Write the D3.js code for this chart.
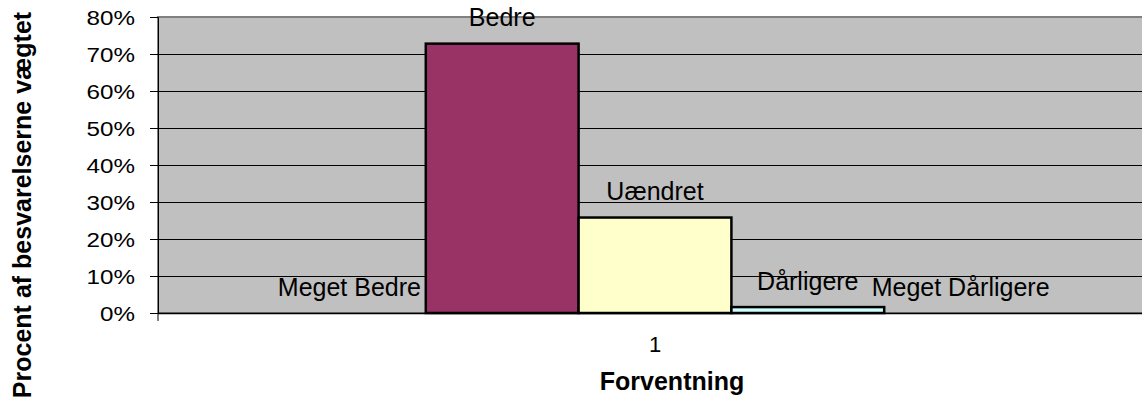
<!DOCTYPE html>
<html><head><meta charset="utf-8">
<script src="https://cdn.jsdelivr.net/npm/d3@7"></script>
<style>body{margin:0;background:#fff}svg{display:block}text{font-family:"Liberation Sans",Arial,sans-serif}</style>
</head><body><svg id="c" width="1142" height="412"></svg>
<script>
const categories = ["1"];
const seriesNames = ["Meget Bedre","Bedre","Uændret","Dårligere","Meget Dårligere"];
const seriesValues = [0, 0.728, 0.258, 0.016, 0];
const seriesColors = ["#9999ff","#993366","#ffffcc","#ccffff","#660066"];
const yTicks = [0,0.1,0.2,0.3,0.4,0.5,0.6,0.7,0.8];
const yTitle = "Procent af besvarelserne vægtet";
const xTitle = "Forventning";

const svg = d3.select("#c");
const L = 158, R = 1152, T = 17, B = 313;
const y = d3.scaleLinear().domain([0,0.8]).range([B,T]);
const x0 = d3.scaleBand().domain(categories).range([L,R]).paddingInner(0).paddingOuter(0.1505);
const x1 = d3.scaleBand().domain(seriesNames).range([0,x0.bandwidth()]).padding(0);

// plot area
svg.append("rect").attr("x",L).attr("y",T).attr("width",R-L+20).attr("height",B-T)
  .attr("fill","#c0c0c0").attr("stroke","#808080").attr("stroke-width",2);

// gridlines
svg.append("g").selectAll("line").data(yTicks.filter(d=>d>0 && d<0.8)).join("line")
  .attr("x1",L).attr("x2",1142).attr("y1",d=>Math.round(y(d))+0.5).attr("y2",d=>Math.round(y(d))+0.5)
  .attr("stroke","#000").attr("stroke-width",1);

// y axis
const yAxis = d3.axisLeft(y).tickValues(yTicks).tickFormat(d3.format(".0%")).tickSize(8).tickPadding(0);
const gy = svg.append("g").attr("transform",`translate(${L},0)`).call(yAxis);
gy.select(".domain").attr("stroke","#000").attr("stroke-width",1);
gy.selectAll(".tick line").attr("stroke","#000");
gy.selectAll(".tick text").attr("font-size",20.5).attr("fill","#000")
  .attr("font-family","Liberation Sans, Arial, sans-serif")
  .attr("x",0).attr("dy","0.35em").attr("text-anchor","end")
  .attr("transform","translate(-23,0) scale(1.18,1)");

// bars
const g = svg.append("g").attr("transform",`translate(${x0(categories[0])},0)`);
const data = seriesNames.map((n,i)=>({n,v:seriesValues[i],c:seriesColors[i]}));
g.selectAll("rect").data(data.filter(d=>d.v>0)).join("rect")
  .attr("x",d=>x1(d.n)).attr("width",x1.bandwidth())
  .attr("y",d=>y(d.v)).attr("height",d=>B-y(d.v))
  .attr("fill",d=>d.c).attr("stroke","#000").attr("stroke-width",2.5);

// x axis line
svg.append("line").attr("x1",L).attr("x2",1142).attr("y1",B+0.5).attr("y2",B+0.5).attr("stroke","#000").attr("stroke-width",1.5);
svg.append("line").attr("x1",L).attr("x2",L).attr("y1",B).attr("y2",B+8).attr("stroke","#000");

// data labels
g.selectAll("text.lbl").data(data).join("text").attr("class","lbl")
  .attr("x",d=>x1(d.n)+x1.bandwidth()/2).attr("y",d=>y(d.v)-17.5)
  .attr("text-anchor","middle").attr("font-size",25).attr("fill","#000").text(d=>d.n);

// category label
svg.append("text").attr("x",x0(categories[0])+x0.bandwidth()/2).attr("y",352)
  .attr("text-anchor","middle").attr("font-size",22).text(categories[0]);

// axis titles
svg.append("text").attr("x",672).attr("y",390).attr("text-anchor","middle")
  .attr("font-size",25).attr("font-weight","bold").text(xTitle);
svg.append("text").attr("transform","translate(31,205) rotate(-90)").attr("text-anchor","middle")
  .attr("font-size",25).attr("font-weight","bold").text(yTitle);
</script></body></html>
